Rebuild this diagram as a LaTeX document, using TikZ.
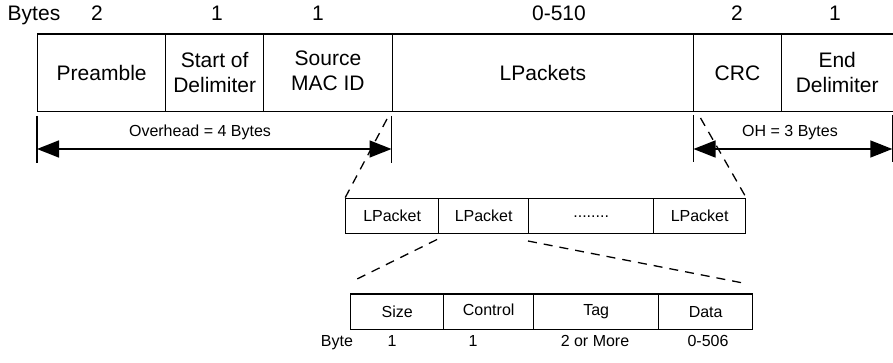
\documentclass[tikz,border=0pt]{standalone}
\usepackage{fontspec}
\setmainfont{Liberation Sans}
\usetikzlibrary{arrows.meta}
\begin{document}
\begin{tikzpicture}[x=1pt,y=-1pt,
  big/.style={font=\fontsize{21}{25}\selectfont},
  small/.style={font=\fontsize{16}{18}\selectfont},
  fieldbox/.style={draw,line width=1.35pt,inner sep=0pt,align=center,anchor=north west},
  topbox/.style={fieldbox,big,minimum height=77.2pt},
  midbox/.style={fieldbox,small,minimum height=35pt},
  lowbox/.style={fieldbox,small,minimum height=35.7pt},
  dimline/.style={line width=1.5pt,{Triangle[length=22pt,width=17pt]}-{Triangle[length=22pt,width=17pt]}},
  bar/.style={line width=1.5pt},
  zoomline/.style={line width=1.3pt,dash pattern=on 9pt off 7pt},
  lbl/.style={anchor=base,inner sep=0pt}
]
\useasboundingbox (0,0) rectangle (893,363);

% byte counts
\node[lbl,big] (bt) at (34,20.7) {Bytes};
\node[lbl,big] (b1) at (97,20.7) {2};
\node[lbl,big] (b2) at (217,20.7) {1};
\node[lbl,big] (b3) at (318,20.7) {1};
\node[lbl,big] (b4) at (559,20.7) {0-510};
\node[lbl,big] (b5) at (737,20.7) {2};
\node[lbl,big] (b6) at (835,20.7) {1};

% frame fields
\node[topbox,minimum width=128pt] (pre) at (37,33.5) {Preamble};
\node[topbox,minimum width=98pt] (sod) at (165,33.5) {Start of\\Delimiter};
\node[topbox,minimum width=128.5pt] (src) at (263,33.5) {\raisebox{1pt}{\begin{tabular}{@{}c@{}}Source\\MAC ID\end{tabular}}};
\node[topbox,minimum width=301.5pt] (lps) at (391.5,33.5) {\raisebox{-4.5pt}{LPackets}};
\node[topbox,minimum width=87.5pt] (crc) at (693,33.5) {CRC};
\node[topbox,minimum width=112pt] (eod) at (780.5,33.5) {End\\Delimiter};

% overhead dimensions
\coordinate (l0) at (37,116);   \coordinate (l1) at (37,163);
\coordinate (r0) at (391.5,116); \coordinate (r1) at (391.5,163);
\coordinate (m0) at (693.5,115); \coordinate (m1) at (693.5,162);
\coordinate (n0) at (892.3,115); \coordinate (n1) at (892.3,162);
\coordinate (la) at (37,149);   \coordinate (ra) at (391.5,149);
\coordinate (ma) at (693.5,149); \coordinate (na) at (892.3,149);
\draw[bar] (l0) -- (l1);
\draw[bar] (r0) -- (r1);
\draw[bar] (m0) -- (m1);
\draw[bar] (n0) -- (n1);
\draw[dimline] (la) -- (ra);
\draw[dimline] (ma) -- (na);
\node[lbl,small] (ovh) at (200,136.7) {Overhead = 4 Bytes};
\node[lbl,small] (oh) at (790,136.7) {OH = 3 Bytes};

% LPacket row
\node[midbox,minimum width=93pt] (lp1) at (345,198) {LPacket};
\node[midbox,minimum width=90pt] (lp2) at (438,198) {LPacket};
\node[midbox,minimum width=125pt] (lp3) at (528,198) {........};
\node[midbox,minimum width=92pt] (lp4) at (653,198) {LPacket};

% zoom lines top
\coordinate (z1) at (387,119);
\coordinate (z2) at (700.5,118);
\draw[zoomline] (z1) -- (lp1.north west);
\draw[zoomline] (z2) -- (lp4.north east);

% LPacket detail row
\node[lowbox,minimum width=93pt] (sz) at (350,293.3) {\raisebox{-1pt}{Size}};
\node[lowbox,minimum width=90pt] (ct) at (443,293.3) {\raisebox{4pt}{Control}};
\node[lowbox,minimum width=125pt] (tg) at (533,293.3) {\raisebox{4pt}{Tag}};
\node[lowbox,minimum width=94pt] (dt) at (658,293.3) {\raisebox{-1pt}{Data}};

% zoom lines bottom
\coordinate (s1) at (437,239.5);
\coordinate (e1) at (355,280);
\coordinate (s2) at (528,241);
\coordinate (e2) at (743,283);
\draw[zoomline] (s1) -- (e1);
\draw[zoomline] (s2) -- (e2);

% byte sizes
\node[lbl,small] (by) at (337,346.5) {Byte};
\node[lbl,small] (y1) at (392,346.5) {1};
\node[lbl,small] (y2) at (473,346.5) {1};
\node[lbl,small] (y3) at (595,346.5) {2 or More};
\node[lbl,small] (y4) at (708,346.5) {0-506};
\end{tikzpicture}
\end{document}
